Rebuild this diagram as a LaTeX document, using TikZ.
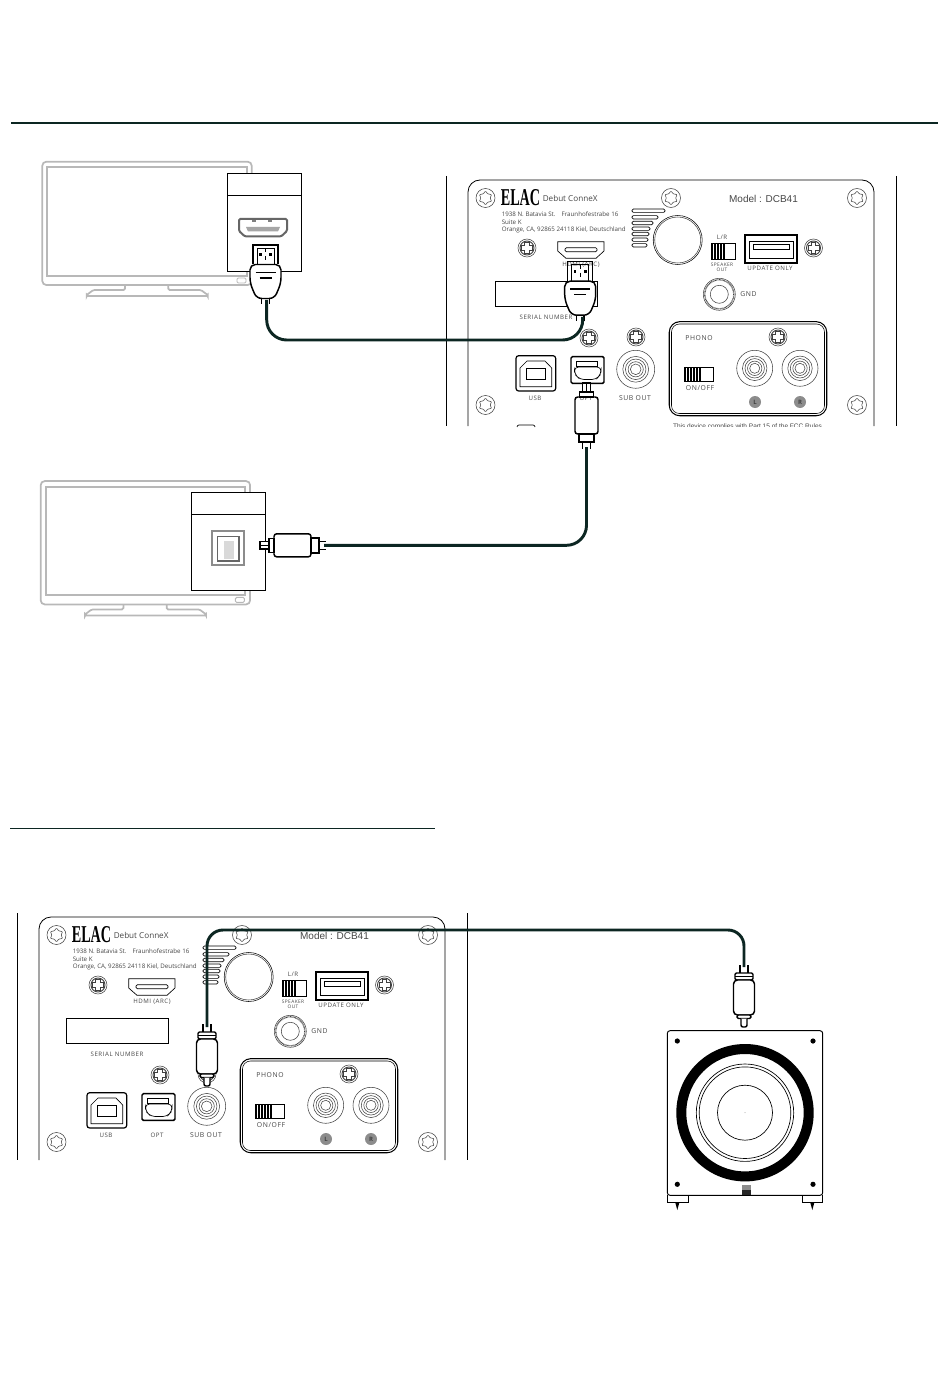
\documentclass[tikz,border=0pt]{standalone}
\usepackage{fontspec}
\usepackage{graphicx}
\usetikzlibrary{shapes.geometric, positioning}
\setmainfont{Liberation Sans}
\newfontfamily\plainfont{Open Sans}
\newfontfamily\spacedfont[LetterSpace=9]{Open Sans}
\newfontfamily\logofont{Liberation Serif}
\definecolor{cablegreen}{RGB}{12,38,34}
\definecolor{tvgray}{RGB}{184,184,184}
\definecolor{labelgray}{RGB}{70,70,70}
\definecolor{portgray}{RGB}{120,120,120}

% cross head screw
\newcommand{\crossscrew}[2]{
    \draw[screwline] (#1,#2) circle (9);
    \draw[screwline, line width=0.7pt] (#1,#2) circle (7);
    \draw[screwline, line width=0.6pt, fill=white, shift={(#1,#2)}]
        (-2.2,-5.6) -- (2.2,-5.6) -- (2.2,-2.2) -- (5.6,-2.2) -- (5.6,2.2) -- (2.2,2.2)
        -- (2.2,5.6) -- (-2.2,5.6) -- (-2.2,2.2) -- (-5.6,2.2) -- (-5.6,-2.2) -- (-2.2,-2.2) -- cycle;
}
% ring jack on the panel
\newcommand{\ringjack}[3]{
    \draw[screwline] (#1,#2) circle (#3);
    \draw[screwline] (#1,#2) circle (0.68*#3);
    \draw[screwline] (#1,#2) circle (0.54*#3);
    \draw[screwline] (#1,#2) circle (0.40*#3);
    \draw[screwline] (#1,#2) circle (0.28*#3);
}
% slide switch, hatched on the left
\newcommand{\slideswitch}[6]{
    \foreach \k in {1,...,#6} {
        \fill (#1+3*\k-3,#2) rectangle ++(2,#4);
    }
    \draw[line width=0.5pt] (#1,#2) rectangle ++(#3,#4);
    \draw[line width=0.5pt] (#1,#2+#4) -- ++(#5,0);
}
% everything on the rear panel, the bottom edge is the argument
\newcommand{\rearpanel}[1]{
    \draw[panelline, rounded corners=9pt] (468,#1) -- (468,180) -- (874,180) -- (874,#1);
    \draw[panelline] (446,176) -- (446,#1);
    \draw[panelline] (896,176) -- (896,#1);
    \foreach \i/\sx/\sy in {1/485.5/198, 2/671/198, 3/857/198, 4/485.5/405, 5/857/405} {
        \draw[screwline] (\sx,\sy) circle (9.5);
        \node[starmark] (star\i) at (\sx,\sy) {};
    }
    \node[inner sep=0pt] (logo) at (520.5,198) {\resizebox{29.5pt}{12pt}{\logofont\bfseries ELAC}};
    \node[brand, anchor=west] (brandname) at (542.5,198) {Debut ConneX};
    \node[addr, anchor=west] (addr1) at (501.5,214) {1938 N. Batavia St.\hspace{4.5pt}Fraunhofestrabe 16};
    \node[addr, anchor=west] (addr2) at (501.5,222) {Suite K};
    \node[addr, anchor=west] (addr3) at (501.5,230) {Orange, CA, 92865 24118 Kiel, Deutschland};
    \node[model] (modelname) at (763.5,198.5) {Model : DCB41};
    % vent slots
    \foreach \vy/\vx in {210.7/665, 217.3/658, 223/653, 228.7/650, 234/649, 239.7/648, 245.3/647} {
        \draw[line width=0.5pt, rounded corners=1pt] (632,\vy-1.7) rectangle (\vx,\vy+1.7);
    }
    \draw[line width=0.4pt] (677.7,240) circle (24.5);
    \draw[line width=0.4pt, screwline] (677.7,240) circle (23);
    \node[tag] (lrlabel) at (722,237) {L/R};
    \slideswitch{711}{243.3}{24}{16}{15}{5}
    \node[tiny] (speakerlabel) at (722,264.5) {SPEAKER};
    \node[tiny] (outlabel) at (722,270) {OUT};
    \draw[line width=0.9pt] (745,235) rectangle (797,263);
    \draw[line width=0.5pt] (749.5,241.5) rectangle (793,258.5);
    \draw[line width=0.5pt] (753,244.7) rectangle (789,249);
    \node[tag] (updatelabel) at (770,268.5) {UPDATE ONLY};
    \crossscrew{813.5}{248}
    \crossscrew{527}{248}
    \crossscrew{589}{338}
    \crossscrew{636}{337}
    \crossscrew{778}{337}
    % ground post
    \draw[screwline] (719.3,294.3) circle (16);
    \draw[screwline, dash pattern=on 0.5pt off 0.5pt, line width=1pt] (719.3,294.3) circle (14.5);
    \draw[screwline] (719.3,294.3) circle (9);
    \node[taglarge] (gndlabel) at (748.5,294.5) {GND};
    % hdmi socket
    \draw[line width=0.5pt] (557.7,241.7) -- (604,241.7) -- (604,251) -- (596,258.3) -- (566,258.3) -- (557.7,251) -- cycle;
    \draw[line width=0.5pt, rounded corners=1pt] (565,247.7) rectangle (597,251.7);
    \node[tag] (arclabel) at (581,265) {HDMI (ARC)};
    \draw[line width=0.5pt] (495,281) rectangle (597.3,306.7);
    \node[tag] (seriallabel) at (546,317) {SERIAL NUMBER};
    % usb b socket
    \draw[line width=0.9pt, rounded corners=2pt] (516,355.7) rectangle (555.7,391);
    \draw[line width=0.5pt] (520,386.7) -- (520,368) -- (527,361) -- (545,361) -- (551.7,368) -- (551.7,386.7) -- cycle;
    \draw[line width=0.5pt] (526.3,368.3) rectangle (545.7,379);
    \node[tag] (usblabel) at (535,398) {USB};
    % optical socket
    \draw[line width=1.1pt, rounded corners=1pt] (571,356.7) rectangle (604,383.3);
    \draw[line width=0.5pt] (576,361) rectangle (597.5,366.5);
    \draw[line width=0.5pt, rounded corners=3pt] (574.5,367) -- (601,367) -- (601,374) -- (596,379.5) -- (580,379.5) -- (574.5,374) -- cycle;
    \node[tag] (optlabel) at (586,398) {OPT};
    \ringjack{635.7}{369.3}{19}
    \node[taglarge] (sublabel) at (635,398) {SUB OUT};
    % phono section
    \draw[line width=0.9pt, rounded corners=8pt] (669.3,321.7) rectangle (826.7,415.7);
    \draw[white, line width=0.3pt, rounded corners=7pt] (670.3,322.7) rectangle (825.7,414.7);
    \draw[line width=0.4pt, rounded corners=6pt] (671.5,324) rectangle (824.5,413.5);
    \node[taglarge] (phonolabel) at (699,338) {PHONO};
    \slideswitch{684}{367.3}{29}{14.4}{18}{6}
    \node[taglarge] (onofflabel) at (700,388) {ON/OFF};
    \ringjack{754.7}{368.3}{18}
    \ringjack{800}{368.3}{18}
    \node[badge] (leftbadge) at (755,402) {L};
    \node[badge] (rightbadge) at (800,402) {R};
}
% tv seen from the front
\newcommand{\tvset}{
    \draw[tvline, rounded corners=3pt] (42.3,161.7) rectangle (251.7,285);
    \draw[tvline] (47.3,167.3) rectangle (246.7,275.7);
    \draw[tvline, rounded corners=1pt] (125,285) -- (125,290) -- (93.3,290) -- (86.7,295) -- (86.7,296)
        -- (207.7,296) -- (207.7,295) -- (201,290) -- (168.3,290) -- (168.3,285);
    \draw[tvline, line width=0.7pt, rounded corners=1pt] (237,278) rectangle (246,283);
}
% hdmi plug, origin at the top of the metal part
\newcommand{\hdmiplug}{
    \draw[plugline] (-12.5,19.5) -- (-12.5,0) -- (12.5,0) -- (12.5,19.5);
    \draw[line width=0.5pt] (-8.5,19.5) -- (-8.5,3) -- (8.5,3) -- (8.5,19.5);
    \draw[line width=0.4pt, dashed] (0,3) -- (0,19.5);
    \fill (-6.5,8.5) rectangle ++(2.6,2.6);
    \fill (3.9,8.5) rectangle ++(2.6,2.6);
    \draw[plugline, fill=white] (-3.8,50) -- (-3.8,59);
    \draw[plugline] (3.8,50) -- (3.8,59);
    \draw[plugline, fill=white, rounded corners=4pt] (-15.5,19.5) -- (15.5,19.5) -- (15.5,38) -- (9,53.5) -- (-9,53.5) -- (-15.5,38) -- cycle;
    \draw[plugline] (-10,27.5) -- (10,27.5);
    \draw[plugline] (-6,33) -- (6,33);
}
% optical plug, origin at the tip
\newcommand{\optplug}{
    \draw[plugline, fill=white] (-3.8,0) rectangle (3.8,9);
    \draw[line width=0.5pt] (0,0) -- (0,9);
    \draw[plugline, fill=white] (-7,9) rectangle (7,14);
    \draw[plugline, rounded corners=2pt] (-11.5,14) rectangle (11.5,51);
    \draw[plugline, fill=white] (-7.5,51) rectangle (7.5,59);
    \draw[plugline] (-4,59) -- (-4,66);
    \draw[plugline] (4,59) -- (4,66);
}
% rca plug, origin between the two stubs
\newcommand{\rcaplug}{
    \draw[plugline] (-4,0) -- (-4,8);
    \draw[plugline] (4,0) -- (4,8);
    \draw[plugline, fill=white, rounded corners=1pt] (-9,8) rectangle (9,15);
    \draw[plugline, line width=0.5pt] (-9,11.5) -- (9,11.5);
    \draw[plugline, fill=white, rounded corners=3pt] (-10.5,15) rectangle (10.5,50);
    \draw[plugline, fill=white, rounded corners=1pt] (-7,50) rectangle (7,53.5);
    \draw[plugline, fill=white, rounded corners=1.5pt] (-3,53.5) -- (-3,62) -- (3,62) -- (3,53.5);
}

\begin{document}
\begin{tikzpicture}[x=0.75pt, y=-0.75pt,
    panelline/.style={line width=0.6pt, black},
    screwline/.style={line width=0.4pt, black!75},
    tvline/.style={line width=1.3pt, tvgray},
    plugline/.style={line width=1.1pt, black},
    cable/.style={line width=2.2pt, cablegreen, line cap=butt},
    insetbox/.style={draw, line width=0.6pt, fill=white},
    starmark/.style={star, star points=6, star point ratio=1.5, draw, line width=0.4pt, black!75, rounded corners=0.6pt, minimum size=10.5pt, inner sep=0pt},
    addr/.style={font=\plainfont\fontsize{4.65}{5}\selectfont, text=labelgray, inner sep=0pt},
    brand/.style={font=\plainfont\fontsize{6.1}{7}\selectfont, text=labelgray, inner sep=0pt},
    model/.style={font=\fontsize{7.5}{9}\selectfont, text=labelgray, inner sep=0pt},
    tag/.style={font=\spacedfont\fontsize{4.6}{5}\selectfont, text=labelgray, inner sep=0pt},
    taglarge/.style={font=\spacedfont\fontsize{5.1}{6}\selectfont, text=labelgray, inner sep=0pt},
    tiny/.style={font=\spacedfont\fontsize{3.6}{4}\selectfont, text=labelgray, inner sep=0pt},
    badge/.style={circle, fill=black!45, minimum size=9pt, inner sep=0pt, font=\plainfont\bfseries\fontsize{4.5}{5}\selectfont, text=black!75}]

    \useasboundingbox (0,0) rectangle (950,1387);

    % rules
    \coordinate (ruleAleft) at (11,123);
    \coordinate (ruleAright) at (938,123);
    \coordinate (ruleBleft) at (10,828);
    \coordinate (ruleBright) at (435,828);
    \draw[line width=1.5pt, cablegreen] (ruleAleft) -- (ruleAright);
    \draw[line width=0.7pt, cablegreen] (ruleBleft) -- (ruleBright);

    % first tv with hdmi
    \tvset
    \node[insetbox, minimum width=55.5pt, minimum height=73.8pt, inner sep=0pt] (hdmibox) at (264.3,222.5) {};
    \coordinate (hdmidiva) at (227.3,195);
    \coordinate (hdmidivb) at (301.3,195);
    \draw[line width=0.6pt] (hdmidiva) -- (hdmidivb);
    \draw[line width=1.5pt, black!60, rounded corners=1pt] (239,219) -- (287,219) -- (287,231) -- (281,236.5) -- (245,236.5) -- (239,231) -- cycle;
    \fill[black!35] (246,227) -- (280,227) -- (278,231.5) -- (248,231.5) -- cycle;
    \fill[black!50] (252,220) rectangle ++(4,2);
    \fill[black!50] (268,220) rectangle ++(4,2);
    \begin{scope}[shift={(265.5,245)}]
        \hdmiplug
    \end{scope}

    % second tv with optical
    \begin{scope}[shift={(-1.6,319.4)}]
        \tvset
    \end{scope}
    \node[insetbox, minimum width=55.8pt, minimum height=73.3pt, inner sep=0pt] (optbox) at (228.5,541.2) {};
    \coordinate (optdiva) at (191.3,514);
    \coordinate (optdivb) at (265.7,514);
    \draw[line width=0.6pt] (optdiva) -- (optdivb);
    \draw[line width=1.4pt, black!45] (212,530.7) rectangle (244,565);
    \draw[line width=0.9pt, black!60] (217.5,536.5) rectangle (239,561);
    \fill[black!15] (224,541) rectangle (234,559);
    \begin{scope}[shift={(260,545.3)}, rotate=90]
        \optplug
    \end{scope}

    % upper rear panel
    \rearpanel{426}
    \begin{scope}
        \clip (660,418) rectangle (830,426.5);
        \node[font=\fontsize{4.9}{6}\selectfont, text=labelgray, inner sep=0pt] (fcctext) at (747.5,426.5) {This device complies with Part 15 of the FCC Rules};
    \end{scope}
    \draw[line width=0.5pt, rounded corners=1.5pt] (517,427) -- (517,425) -- (535,425) -- (535,427);
    \begin{scope}[shift={(580.2,261.7)}]
        \hdmiplug
    \end{scope}
    \begin{scope}[shift={(586.5,383)}]
        \optplug
    \end{scope}

    % lower rear panel
    \begin{scope}[shift={(-429,737)}, name prefix=low-]
        \rearpanel{423}
    \end{scope}

    % subwoofer
    \draw[line width=0.7pt, rounded corners=2pt] (667.3,1030.7) rectangle (822.7,1195.3);
    \foreach \hx/\hy in {677.3/1041, 813/1041, 677.3/1184.3, 813/1184.3} {
        \fill (\hx,\hy) circle (2.6);
    }
    \fill[black, even odd rule] (745,1112.7) circle (68.7) circle (58.7);
    \draw[line width=0.5pt] (745,1112.7) circle (48.7);
    \draw[line width=0.5pt] (745,1112.7) circle (45.8);
    \draw[line width=0.5pt] (745,1112.7) circle (27.5);
    \fill[black!40] (745,1112.7) circle (0.5);
    \fill[black!45] (741.7,1185) rectangle (751,1190);
    \fill[black!85] (741.7,1190) rectangle (751,1195.3);
    \draw[line width=0.7pt] (667.3,1195.3) -- (667.3,1202.7) -- (688.3,1202.7) -- (688.3,1195.3);
    \draw[line width=0.7pt] (802.3,1195.3) -- (802.3,1202.7) -- (822.7,1202.7) -- (822.7,1195.3);
    \fill (675.3,1202.7) -- (679.3,1202.7) -- (677.3,1210) -- cycle;
    \fill (810.3,1202.7) -- (814.3,1202.7) -- (812.3,1210) -- cycle;

    % rca plugs
    \begin{scope}[shift={(207,1024)}]
        \rcaplug
    \end{scope}
    \begin{scope}[shift={(744,965)}]
        \rcaplug
    \end{scope}

    % cables
    \coordinate (hdmitv) at (266.7,300);
    \coordinate (hdmiamp) at (582.7,317);
    \coordinate (hdmirun) at (400,340);
    \coordinate (optamp) at (586.5,447);
    \coordinate (opttv) at (324,545.3);
    \coordinate (rcaleft) at (207,1027);
    \coordinate (rcaright) at (744,967);
    \coordinate (rcarun) at (400,930);
    \draw[cable, rounded corners=15pt] (hdmitv) -- (hdmitv |- hdmirun) -- (hdmiamp |- hdmirun) -- (hdmiamp);
    \draw[cable, rounded corners=15pt] (optamp) |- (opttv);
    \draw[cable, rounded corners=12pt] (rcaleft) -- (rcaleft |- rcarun) -- (rcaright |- rcarun) -- (rcaright);
\end{tikzpicture}
\end{document}
